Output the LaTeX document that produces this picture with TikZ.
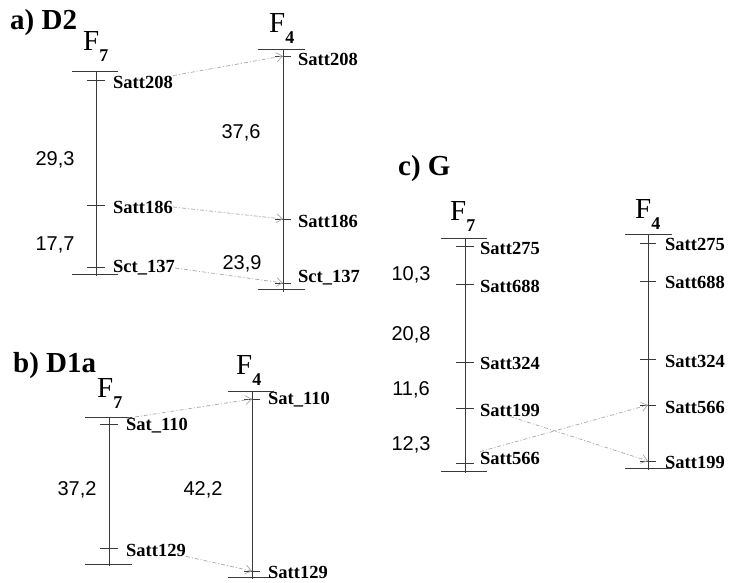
\documentclass[tikz,border=0pt]{standalone}
\usepackage{fontspec}
\setmainfont{Liberation Serif}
\newfontfamily\distsans{Liberation Sans}
\usepackage{tikz}
\usetikzlibrary{arrows.meta, calc}
\usepackage{xcolor}
\definecolor{chrgray}{HTML}{3A3A3A}
\definecolor{lnkgray}{HTML}{A8A8A8}
\newcommand{\chrF}[1]{F\raisebox{-0.4em}{\fontsize{18}{18}\selectfont\bfseries #1}}

\begin{document}
\begin{tikzpicture}[x=1pt, y=-1pt,
    chrom/.style={draw=chrgray, line width=0.8pt},
    mk/.style={font=\fontsize{18.5}{20}\selectfont\bfseries, anchor=west, inner sep=0pt},
    dist/.style={font=\distsans\fontsize{20}{22}\selectfont, inner sep=0pt},
    ttl/.style={font=\fontsize{29}{31}\selectfont\bfseries, anchor=base west, inner sep=0pt},
    chr/.style={font=\fontsize{29}{31}\selectfont, anchor=base west, inner sep=0pt},
    link/.style={draw=lnkgray, line width=0.7pt, dash pattern=on 4pt off 2pt on 1pt off 2pt,
                 -{Straight Barb[length=6pt, width=9pt]}}]
    \useasboundingbox (0,0) rectangle (729,582);

    % a) D2
    \node[ttl] (ttlA) at (10,29) {a) D2};
    \node[chr] (aF7) at (83,50) {\chrF{7}};
    \node[chr] (aF4) at (269,32) {\chrF{4}};
    \draw[chrom] (96,71) -- (96,276);
    \draw[chrom] (72,71) -- (118,71);
    \draw[chrom] (72,274) -- (118,274);
    \draw[chrom] (283,49) -- (283,292);
    \draw[chrom] (258,49) -- (305,49);
    \draw[chrom] (258,289) -- (305,289);
    \coordinate (a7t208) at (96,80);
    \coordinate (a7t186) at (96,205);
    \coordinate (a7t137) at (96,267);
    \coordinate (a4t208) at (283,56);
    \coordinate (a4t186) at (283,219);
    \coordinate (a4t137) at (283,283);
    \draw[chrom] ([xshift=-9]a7t208) -- ([xshift=9]a7t208);
    \draw[chrom] ([xshift=-9]a7t186) -- ([xshift=9]a7t186);
    \draw[chrom] ([xshift=-9]a7t137) -- ([xshift=9]a7t137);
    \draw[chrom] ([xshift=-8]a4t208) -- ([xshift=8]a4t208);
    \draw[chrom] ([xshift=-8]a4t186) -- ([xshift=8]a4t186);
    \draw[chrom] ([xshift=-8]a4t137) -- ([xshift=8]a4t137);
    \node[mk] (a7s208) at (113,82) {Satt208};
    \node[mk] (a7s186) at (113,207) {Satt186};
    \node[mk] (a7s137) at (113,268) {Sct\_137};
    \node[mk] (a4s208) at (298,59) {Satt208};
    \node[mk] (a4s186) at (298,221) {Satt186};
    \node[mk] (a4s137) at (298,278) {Sct\_137};
    \node[dist] (a7d1) at (55,160) {29,3};
    \node[dist] (a7d2) at (55,245) {17,7};
    \node[dist] (a4d1) at (241,133) {37,6};
    \node[dist] (a4d2) at (242,264) {23,9};
    \draw[link] (a7s208.north east) -- (a4t208);
    \draw[link] (a7s186.east) -- (a4t186);
    \draw[link] (a7s137.east) -- (a4t137);

    % b) D1a
    \node[ttl] (ttlB) at (13,372) {b) D1a};
    \node[chr] (bF7) at (97,397) {\chrF{7}};
    \node[chr] (bF4) at (236,374) {\chrF{4}};
    \draw[chrom] (109,417) -- (109,566);
    \draw[chrom] (85,417) -- (132,417);
    \draw[chrom] (85,564) -- (132,564);
    \draw[chrom] (252,391) -- (252,579);
    \draw[chrom] (228,391) -- (274,391);
    \draw[chrom] (228,577) -- (274,577);
    \coordinate (b7t110) at (109,424);
    \coordinate (b7t129) at (109,548);
    \coordinate (b4t110) at (252,399);
    \coordinate (b4t129) at (252,571);
    \draw[chrom] ([xshift=-9]b7t110) -- ([xshift=9]b7t110);
    \draw[chrom] ([xshift=-9]b7t129) -- ([xshift=9]b7t129);
    \draw[chrom] ([xshift=-8]b4t110) -- ([xshift=8]b4t110);
    \draw[chrom] ([xshift=-8]b4t129) -- ([xshift=8]b4t129);
    \node[mk] (b7s110) at (126,426) {Sat\_110};
    \node[mk] (b7s129) at (126,550) {Satt129};
    \node[mk] (b4s110) at (268,400) {Sat\_110};
    \node[mk] (b4s129) at (268,572) {Satt129};
    \node[dist] (b7d1) at (77,490) {37,2};
    \node[dist] (b4d1) at (203,490) {42,2};
    \draw[link] (b7s110.north west) -- (b4t110);
    \draw[link] (b7s129.south east) -- (b4t129);

    % c) G
    \node[ttl] (ttlC) at (398,175) {c) G};
    \node[chr] (cF7) at (450,220) {\chrF{7}};
    \node[chr] (cF4) at (635,218) {\chrF{4}};
    \draw[chrom] (465,238) -- (465,473);
    \draw[chrom] (441,238) -- (487,238);
    \draw[chrom] (441,471) -- (487,471);
    \draw[chrom] (648,234) -- (648,470);
    \draw[chrom] (625,234) -- (672,234);
    \draw[chrom] (625,468) -- (672,468);
    \coordinate (c7t275) at (465,246);
    \coordinate (c7t688) at (465,284);
    \coordinate (c7t324) at (465,362);
    \coordinate (c7t199) at (465,408);
    \coordinate (c7t566) at (465,463);
    \coordinate (c4t275) at (648,243);
    \coordinate (c4t688) at (648,281);
    \coordinate (c4t324) at (648,359);
    \coordinate (c4t566) at (648,405);
    \coordinate (c4t199) at (648,461);
    \draw[chrom] ([xshift=-9]c7t275) -- ([xshift=9]c7t275);
    \draw[chrom] ([xshift=-9]c7t688) -- ([xshift=9]c7t688);
    \draw[chrom] ([xshift=-9]c7t324) -- ([xshift=9]c7t324);
    \draw[chrom] ([xshift=-9]c7t199) -- ([xshift=9]c7t199);
    \draw[chrom] ([xshift=-9]c7t566) -- ([xshift=9]c7t566);
    \draw[chrom] ([xshift=-8]c4t275) -- ([xshift=8]c4t275);
    \draw[chrom] ([xshift=-8]c4t688) -- ([xshift=8]c4t688);
    \draw[chrom] ([xshift=-8]c4t324) -- ([xshift=8]c4t324);
    \draw[chrom] ([xshift=-8]c4t566) -- ([xshift=8]c4t566);
    \draw[chrom] ([xshift=-8]c4t199) -- ([xshift=8]c4t199);
    \node[mk] (c7s275) at (480,248) {Satt275};
    \node[mk] (c7s688) at (480,286) {Satt688};
    \node[mk] (c7s324) at (480,363) {Satt324};
    \node[mk] (c7s199) at (480,410) {Satt199};
    \node[mk] (c7s566) at (480,458) {Satt566};
    \node[mk] (c4s275) at (665,244) {Satt275};
    \node[mk] (c4s688) at (665,282) {Satt688};
    \node[mk] (c4s324) at (665,361) {Satt324};
    \node[mk] (c4s566) at (665,407) {Satt566};
    \node[mk] (c4s199) at (665,462) {Satt199};
    \node[dist] (c7d1) at (411,275) {10,3};
    \node[dist] (c7d2) at (411,335) {20,8};
    \node[dist] (c7d3) at (411,390) {11,6};
    \node[dist] (c7d4) at (411,445) {12,3};
    \draw[link] (c7s199.south) -- (c4t199);
    \draw[link] (c7s566.north west) -- (c4t566);
  \end{tikzpicture}
\end{document}
